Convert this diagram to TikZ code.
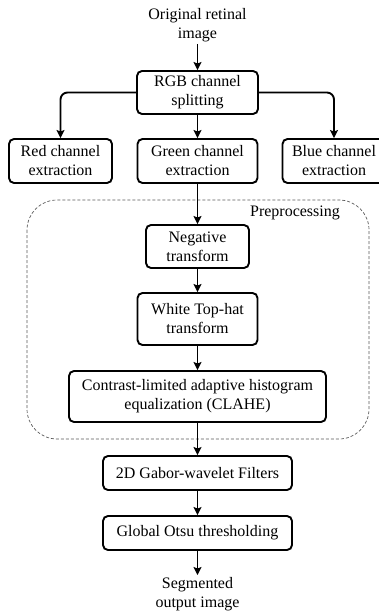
\documentclass[tikz,border=0pt]{standalone}
\usepackage{fontspec}
\setmainfont{Liberation Serif}
\usetikzlibrary{arrows.meta}
\begin{document}
\begin{tikzpicture}[x=1pt,y=-1pt,
  txt/.style={font=\fontsize{16}{19}\selectfont, align=center, inner sep=0pt},
  procbox/.style={txt, draw, line width=1.9pt, rounded corners=5pt},
  flow/.style={line width=1.9pt, -{Stealth[length=8pt,width=8pt,inset=1.5pt]}},
  group/.style={draw=black!65, line width=0.7pt, dash pattern=on 3pt off 2pt, rounded corners=30pt}
]
\useasboundingbox (0,0) rectangle (378,612);

% outer dashed grouping of the preprocessing steps
\draw[group] (27,200) rectangle (369,439);
\node[txt] (prelabel) at (295,213) {Preprocessing};

% terminals
\node[txt, inner sep=2pt] (orig) at (197.5,25) {Original retinal\\image};
\node[txt, inner sep=2pt] (seg) at (197.5,594) {Segmented\\output image};

% processing boxes
\node[procbox, minimum width=121pt, minimum height=43pt] (rgb) at (197.5,92.5) {RGB channel\\splitting};
\node[procbox, minimum width=103pt, minimum height=44pt] (red) at (60.5,161) {Red channel\\extraction};
\node[procbox, minimum width=120pt, minimum height=44pt] (green) at (197.5,161) {Green channel\\extraction};
\node[procbox, minimum width=103pt, minimum height=44pt] (blue) at (334,161) {Blue channel\\extraction};
\node[procbox, minimum width=103pt, minimum height=43pt] (neg) at (197.5,246.5) {Negative\\transform};
\node[procbox, minimum width=120pt, minimum height=52pt] (white) at (197.5,319) {White Top-hat\\transform};
\node[procbox, minimum width=257pt, minimum height=51pt] (clahe) at (197.5,396.5) {Contrast-limited adaptive histogram\\equalization (CLAHE)};
\node[procbox, minimum width=189pt, minimum height=34pt] (gabor) at (197.5,473) {2D Gabor-wavelet Filters};
\node[procbox, minimum width=189pt, minimum height=34pt] (otsu) at (197.5,533) {Global Otsu thresholding};

% connectors
\draw[flow] (orig) -- (rgb);
\draw[flow, rounded corners=7pt] (rgb.west) -| (red.north);
\draw[flow, rounded corners=7pt] (rgb.east) -| (blue.north);
\draw[flow] (rgb) -- (green);
\draw[flow] (green) -- (neg);
\draw[flow] (neg) -- (white);
\draw[flow] (white) -- (clahe);
\draw[flow] (clahe) -- (gabor);
\draw[flow] (gabor) -- (otsu);
\draw[flow] (otsu) -- (seg);
\end{tikzpicture}
\end{document}
